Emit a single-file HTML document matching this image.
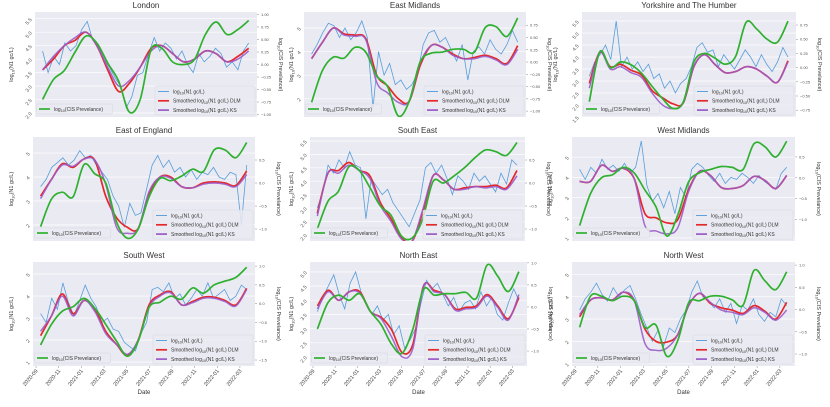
<!DOCTYPE html>
<html><head><meta charset="utf-8"><style>
html,body{margin:0;padding:0;background:#fff;}
svg text{font-family:"Liberation Sans",sans-serif;}
</style></head><body>
<svg id="fig" xmlns="http://www.w3.org/2000/svg" width="830" height="402" viewBox="0 0 830 402"></svg>
<script>
// time positions in months since 2020-09-01
const smoothTimes = [0.4,1.36,2.32,3.27,4.23,5.19,6.15,7.11,8.06,9.02,9.98,10.94,11.89,12.85,13.81,14.77,15.73,16.68,17.64,18.6];
const rawTimes = [0.4,0.89,1.38,1.88,2.37,2.86,3.35,3.85,4.34,4.83,5.32,5.82,6.31,6.8,7.29,7.79,8.28,8.77,9.26,9.76,10.25,10.74,11.23,11.73,12.22,12.71,13.2,13.7,14.19,14.68,15.17,15.67,16.16,16.65,17.14,17.64,18.13,18.6];
const xTickLabels = ["2020-09","2020-11","2021-01","2021-03","2021-05","2021-07","2021-09","2021-11","2022-01","2022-03"];
const xTickMonths = [0,2,4,6,8,10,12,14,16,18];

const londonRaw = [4.3,3.5,4.1,3.8,4.6,4.3,4.5,5.1,5.4,4.7,4.5,4.0,3.7,3.3,3.0,2.2,2.6,3.4,3.5,4.2,4.8,4.3,4.6,4.4,4.0,4.3,3.8,3.5,4.2,3.9,4.1,4.4,4.2,3.7,3.9,3.6,4.3,4.6];
const londonDLM = [3.6,4.0,4.5,4.7,5.0,4.5,3.6,2.8,3.1,3.7,4.4,4.5,4.2,3.9,4.0,4.3,4.2,3.9,4.1,4.4];
const londonKS = [3.6,4.1,4.5,4.8,5.0,4.5,3.7,3.0,3.2,3.7,4.3,4.5,4.2,3.9,4.0,4.3,4.2,3.9,4.0,4.3];
const londonCIS = [-0.7,-0.3,-0.12,0.25,0.57,0.43,0.03,-0.33,-0.95,-0.7,0.3,0.32,0.05,0.0,0.1,0.6,0.85,0.6,0.7,0.88];

const eastMidRaw = [3.9,4.3,4.8,5.2,5.1,4.6,5.0,4.5,4.8,5.3,4.6,1.6,4.0,3.0,3.5,2.6,2.8,2.4,2.6,3.1,4.3,4.8,4.9,4.4,4.6,4.1,3.6,4.3,2.8,4.0,4.2,3.9,4.5,4.1,3.9,4.3,4.9,4.4];
const eastMidDLM = [3.7,4.4,5.0,4.75,4.7,4.55,3.0,2.55,2.0,1.9,3.4,4.25,4.2,3.9,3.7,3.75,3.85,3.7,3.5,4.25];
const eastMidKS = [3.7,4.4,5.0,4.7,4.65,4.5,2.7,2.25,1.85,1.9,3.5,4.25,4.2,3.85,3.7,3.7,3.8,3.65,3.45,4.1];
const eastMidCIS = [-0.82,-0.17,0.1,0.08,0.3,0.2,-0.28,-0.5,-1.1,-0.8,0.0,0.18,0.2,0.26,0.26,0.2,0.7,0.72,0.52,0.9];

const yorksRaw = [3.2,3.8,4.1,4.5,3.9,5.5,3.6,4.0,3.5,3.8,3.4,3.7,3.1,3.3,2.7,3.0,2.5,2.9,3.1,3.6,4.4,4.6,4.2,4.3,3.6,4.1,3.8,3.5,3.9,4.3,4.0,3.6,4.1,3.7,3.4,3.8,4.4,4.0];
const yorksDLM = [2.9,4.2,3.6,3.7,3.45,3.25,2.6,2.3,2.05,2.1,3.6,4.1,3.7,3.35,3.4,3.6,3.5,3.2,2.95,3.85];
const yorksKS = [2.7,4.2,3.5,3.6,3.35,3.15,2.5,2.0,1.85,2.1,3.6,4.1,3.7,3.35,3.4,3.6,3.5,3.2,2.95,3.8];
const yorksCIS = [-0.6,0.28,0.0,0.1,0.05,-0.1,-0.33,-0.55,-0.72,-0.6,0.1,0.25,0.17,0.06,0.2,0.8,0.68,0.5,0.45,0.82];

const eoeRaw = [3.6,3.9,4.4,4.6,4.8,4.5,4.7,5.1,4.8,4.9,4.5,4.2,3.9,3.2,2.8,1.9,2.9,2.4,2.5,3.5,4.5,4.9,4.4,4.7,4.2,4.4,4.0,4.3,3.9,4.2,4.1,4.4,4.0,3.9,4.2,4.1,2.0,4.5];
const eoeDLM = [3.2,3.9,4.55,4.4,4.75,4.7,3.2,2.3,1.9,1.85,3.3,4.0,4.0,3.6,3.55,3.75,3.8,3.75,3.65,4.25];
const eoeKS = [3.1,3.9,4.5,4.45,4.75,4.7,3.7,1.9,1.65,1.85,3.4,4.0,3.95,3.6,3.55,3.7,3.75,3.7,3.6,4.1];
const eoeCIS = [-0.95,-0.35,-0.2,-0.3,0.4,0.2,0.0,-0.85,-1.2,-1.0,-0.3,0.1,0.05,0.15,0.3,0.25,0.72,0.72,0.55,0.88];

const seRaw = [3.0,3.6,4.6,4.3,4.8,4.5,5.1,4.6,4.5,2.6,4.1,3.8,3.5,3.7,3.2,2.9,2.6,2.3,2.8,3.3,4.5,4.7,4.3,4.6,4.1,3.5,4.2,4.0,3.7,4.3,4.0,4.2,3.9,3.6,4.3,3.9,4.8,4.6];
const seDLM = [2.8,4.3,4.4,4.7,4.4,4.2,3.2,2.6,1.9,1.75,2.8,4.2,4.05,3.7,3.75,3.8,3.8,3.85,3.75,4.4];
const seKS = [2.7,4.3,4.3,4.6,4.4,4.1,3.1,2.5,1.85,1.75,2.9,4.2,4.05,3.7,3.7,3.8,3.75,3.8,3.7,4.2];
const seCIS = [-1.0,-0.4,-0.18,0.35,0.27,-0.1,-0.5,-0.7,-1.15,-1.2,-0.8,0.03,0.0,0.15,0.33,0.55,0.72,0.68,0.6,0.88];

const wmRaw = [4.4,3.9,4.5,4.2,4.9,4.4,4.6,4.3,4.7,4.2,4.5,5.8,3.6,2.8,3.2,2.5,3.3,2.2,3.5,3.0,4.4,4.7,4.5,4.1,3.8,4.2,3.7,4.0,3.9,4.2,4.0,3.7,4.1,3.8,3.6,3.4,4.2,4.5];
const wmDLM = [3.8,3.8,4.6,4.3,4.45,3.95,2.2,2.0,1.75,1.9,3.4,4.3,4.1,3.5,3.45,3.6,4.05,3.85,3.45,4.1];
const wmKS = [3.8,3.8,4.6,4.3,4.45,3.95,1.6,1.35,1.2,1.5,3.3,4.3,4.1,3.5,3.45,3.6,4.05,3.85,3.45,4.1];
const wmCIS = [-1.15,-0.38,0.0,0.07,0.25,0.12,-0.3,-0.7,-1.4,-0.9,-0.1,0.12,0.2,0.27,0.25,0.2,0.82,0.75,0.5,0.88];

const swRaw = [3.2,2.8,3.9,3.4,4.6,3.7,3.1,3.8,4.5,3.9,3.5,2.8,3.0,2.5,2.4,1.9,1.7,1.5,2.3,2.8,4.3,4.4,4.2,4.6,3.9,4.1,3.6,3.9,4.3,4.0,4.6,3.9,4.1,4.3,3.8,4.0,4.5,4.3];
const swDLM = [2.2,3.1,4.1,3.2,3.8,3.4,2.4,1.8,1.3,2.0,3.6,4.05,4.2,3.6,3.75,3.95,3.95,3.8,3.6,4.35];
const swKS = [2.4,3.1,4.0,3.1,3.8,3.3,2.3,1.8,1.35,2.0,3.5,4.0,4.15,3.6,3.7,3.9,3.9,3.75,3.55,4.3];
const swCIS = [-1.1,-0.55,-0.2,-0.08,0.14,-0.12,-0.55,-1.0,-1.4,-1.0,-0.1,0.04,0.2,0.12,0.42,0.28,0.5,0.6,0.7,0.97];

const neRaw = [3.6,4.1,4.5,4.9,4.2,3.7,4.6,5.0,4.3,3.9,3.5,3.8,3.3,3.5,2.8,3.1,2.3,2.6,3.0,3.9,4.7,4.4,4.6,4.2,3.8,4.1,3.6,3.9,4.0,3.7,4.3,3.8,4.1,3.5,3.3,3.9,4.4,4.0];
const neDLM = [3.8,4.35,4.0,4.3,4.3,3.6,3.4,2.95,2.15,2.45,4.5,4.35,4.2,3.7,3.75,3.8,4.2,3.8,3.35,4.1];
const neKS = [3.7,4.3,4.0,4.3,4.25,3.6,3.35,2.7,2.0,2.3,4.5,4.3,4.2,3.65,3.7,3.75,4.15,3.75,3.3,4.2];
const neCIS = [-0.5,0.1,0.27,0.15,0.3,-0.1,-0.4,-0.85,-1.05,-0.5,0.4,0.27,0.3,0.3,0.33,0.2,0.95,0.7,0.35,0.8];

const nwRaw = [3.4,3.9,4.2,4.6,4.1,3.8,4.4,4.0,4.3,4.5,3.9,3.2,2.6,2.0,2.5,1.8,2.6,2.4,3.0,3.4,4.2,4.7,4.0,3.8,3.5,3.9,3.3,3.7,2.8,3.6,3.4,3.9,3.2,2.9,3.3,3.1,3.9,3.6];
const nwDLM = [3.1,3.85,3.95,3.85,4.2,3.85,2.55,2.0,1.97,2.3,3.6,4.15,3.7,3.5,3.4,3.25,3.6,3.35,3.0,3.75];
const nwKS = [3.2,3.85,3.95,3.85,4.2,3.85,1.9,1.6,1.7,2.3,3.6,4.15,3.75,3.4,3.3,3.2,3.5,3.3,2.95,3.4];
const nwCIS = [-0.4,0.3,0.3,0.2,0.3,0.2,-0.4,-0.35,-1.05,-0.7,0.15,0.2,0.3,0.3,0.22,0.1,0.88,0.65,0.45,0.85];

const londonLeftTicks = [2.0,2.5,3.0,3.5,4.0,4.5,5.0,5.5];
const londonRightTicks = [-1.0,-0.75,-0.5,-0.25,0,0.25,0.5,0.75,1.0];
const eastMidLeftTicks = [2,3,4,5];
const eastMidRightTicks = [-1.0,-0.75,-0.5,-0.25,0,0.25,0.5,0.75];
const yorksLeftTicks = [1.5,2.0,2.5,3.0,3.5,4.0,4.5,5.0,5.5];
const yorksRightTicks = [-0.75,-0.5,-0.25,0,0.25,0.5,0.75];
const eoeLeftTicks = [2,3,4,5];
const halfRightTicks = [-1.0,-0.5,0.0,0.5];
const seLeftTicks = [2.0,2.5,3.0,3.5,4.0,4.5,5.0,5.5];
const wmLeftTicks = [1,2,3,4,5];
const swLeftTicks = [1,2,3,4,5];
const swRightTicks = [-1.5,-1.0,-0.5,0.0,0.5,1.0];
const neLeftTicks = [2.0,2.5,3.0,3.5,4.0,4.5,5.0];
const neRightTicks = [-1.0,-0.5,0.0,0.5,1.0];
const nwLeftTicks = [1,2,3,4,5];
const nwRightTicks = [-1.0,-0.5,0.0,0.5,1.0];

const panels = [
 {name:'london',title:'London',L:35,R:257,T:12,B:117,yo:22,ld:[1.85,5.75],rd:[-1.05,1.05],lt:londonLeftTicks,rt:londonRightTicks,rf:2,raw:londonRaw,dlm:londonDLM,ks:londonKS,cis:londonCIS,row:0},
 {name:'east-midlands',title:'East Midlands',L:304,R:526,T:12,B:117,yo:11,ld:[1.23,5.68],rd:[-1.12,1.02],lt:eastMidLeftTicks,rt:eastMidRightTicks,rf:2,raw:eastMidRaw,dlm:eastMidDLM,ks:eastMidKS,cis:eastMidCIS,row:0},
 {name:'yorkshire',title:'Yorkshire and The Humber',L:582,R:796,T:12,B:117,yo:25,ld:[1.5,5.88],rd:[-0.87,0.98],lt:yorksLeftTicks,rt:yorksRightTicks,rf:2,raw:yorksRaw,dlm:yorksDLM,ks:yorksKS,cis:yorksCIS,row:0},
 {name:'east-of-england',title:'East of England',L:33,R:255,T:137,B:241,yo:20,ld:[1.33,5.67],rd:[-1.26,1.0],lt:eoeLeftTicks,rt:halfRightTicks,rf:1,raw:eoeRaw,dlm:eoeDLM,ks:eoeKS,cis:eoeCIS,row:1},
 {name:'south-east',title:'South East',L:310,R:525,T:137,B:241,yo:17,ld:[1.77,5.65],rd:[-1.26,1.0],lt:seLeftTicks,rt:halfRightTicks,rf:1,raw:seRaw,dlm:seDLM,ks:seKS,cis:seCIS,row:1},
 {name:'west-midlands',title:'West Midlands',L:572,R:795,T:137,B:241,yo:20,ld:[0.85,6.0],rd:[-1.52,0.98],lt:wmLeftTicks,rt:halfRightTicks,rf:1,raw:wmRaw,dlm:wmDLM,ks:wmKS,cis:wmCIS,row:1},
 {name:'south-west',title:'South West',L:33,R:255,T:262,B:366,yo:20,ld:[0.82,5.55],rd:[-1.66,1.11],lt:swLeftTicks,rt:swRightTicks,rf:1,raw:swRaw,dlm:swDLM,ks:swKS,cis:swCIS,row:2},
 {name:'north-east',title:'North East',L:310,R:527,T:262,B:366,yo:17,ld:[1.68,5.35],rd:[-1.34,1.02],lt:neLeftTicks,rt:neRightTicks,rf:1,raw:neRaw,dlm:neDLM,ks:neKS,cis:neCIS,row:2},
 {name:'north-west',title:'North West',L:572,R:795,T:262,B:366,yo:20,ld:[0.9,5.55],rd:[-1.27,1.07],lt:nwLeftTicks,rt:nwRightTicks,rf:1,raw:nwRaw,dlm:nwDLM,ks:nwKS,cis:nwCIS,row:2}
];

const NS='http://www.w3.org/2000/svg';
const svg=document.getElementById('fig');
function mk(tag,attrs,parent){const e=document.createElementNS(NS,tag);for(const k in attrs)e.setAttribute(k,attrs[k]);(parent||svg).appendChild(e);return e;}
function smoothPath(pts){
  let d='M'+pts[0][0].toFixed(1)+','+pts[0][1].toFixed(1);
  for(let i=0;i<pts.length-1;i++){
    const p0=pts[i-1]||pts[i],p1=pts[i],p2=pts[i+1],p3=pts[i+2]||p2;
    const c1x=p1[0]+(p2[0]-p0[0])/6,c1y=p1[1]+(p2[1]-p0[1])/6;
    const c2x=p2[0]-(p3[0]-p1[0])/6,c2y=p2[1]-(p3[1]-p1[1])/6;
    d+=' C'+c1x.toFixed(1)+','+c1y.toFixed(1)+' '+c2x.toFixed(1)+','+c2y.toFixed(1)+' '+p2[0].toFixed(1)+','+p2[1].toFixed(1);
  }
  return d;
}
function fmt(v,n){return (v<0?'\u2212':'')+Math.abs(v).toFixed(n);}

panels.forEach(p=>{
  const g=mk('g',{});
  
  
  const W=p.R-p.L,H=p.B-p.T;
  const xS=t=>p.L+(t+0.27)/19.6*W;
  const yL=v=>p.B-(v-p.ld[0])/(p.ld[1]-p.ld[0])*H;
  const yR=v=>p.B-(v-p.rd[0])/(p.rd[1]-p.rd[0])*H;
  const bg=mk('rect',{x:p.L,y:p.T,width:W,height:H,fill:'#eaeaf2'},g);
  
  
  const t=mk('text',{x:(p.L+p.R)/2,y:p.T-4,'text-anchor':'middle','font-size':'8','fill':'#333'},g);
  t.textContent=p.title;
  
  
  p.lt.forEach(v=>{
    const y=yL(v);
    mk('line',{x1:p.L,x2:p.R,y1:y,y2:y,stroke:'#fff','stroke-width':0.6},g);
    const tx=mk('text',{x:p.L-4,y:y+1.5,'text-anchor':'end','font-size':'5','fill':'#555',transform:'rotate(-50 '+(p.L-4)+' '+y+')'},g);
    tx.textContent=(Number.isInteger(v)&&p.lt.some(q=>!Number.isInteger(q)))?v.toFixed(1):String(v);
    
    
  });
  p.rt.forEach(v=>{
    const y=yR(v);
    mk('line',{x1:p.R,x2:p.R+2,y1:y,y2:y,stroke:'#888','stroke-width':0.5},g);
    const tx=mk('text',{x:p.R+4,y:y+1.5,'font-size':'4','fill':'#555'},g);
    tx.textContent=fmt(v,p.rf);
    
    
  });
  const cy=(p.T+p.B)/2;
  const lx0=p.L-p.yo;
  const ly=mk('text',{x:lx0,y:cy,'text-anchor':'middle','font-size':'5.5','fill':'#333',transform:'rotate(-90 '+lx0+' '+cy+')'},g);
  ly.innerHTML='log<tspan font-size="4" dy="1.5">10</tspan><tspan dy="-1.5">(N1 gc/L)</tspan>';
  
  
  const ry=mk('text',{x:p.R+22,y:cy,'text-anchor':'middle','font-size':'5.5','fill':'#333',transform:'rotate(90 '+(p.R+22)+' '+cy+')'},g);
  ry.innerHTML='log<tspan font-size="4" dy="1.5">10</tspan><tspan dy="-1.5">(CIS Prevelance)</tspan>';
  
  
  if(p.row===2){
    xTickMonths.forEach((m,i)=>{
      const x=xS(m);
      mk('line',{x1:x,x2:x,y1:p.B,y2:p.B+2,stroke:'#888','stroke-width':0.5},g);
      const tx=mk('text',{x:x+2,y:p.B+5,'text-anchor':'end','font-size':'5.5','fill':'#444',transform:'rotate(-50 '+(x+2)+' '+(p.B+5)+')'},g);
      tx.textContent=xTickLabels[i];
      
      
    });
    const dl=mk('text',{x:(p.L+p.R)/2,y:394,'text-anchor':'middle','font-size':'6','fill':'#333'},g);
    dl.textContent='Date';
    
    
  }
  const clipId='clip-'+p.name;
  const cp=mk('clipPath',{id:clipId},g);
  mk('rect',{x:p.L,y:p.T,width:W,height:H},cp);
  const lg=mk('g',{'clip-path':'url(#'+clipId+')'},g);
  const rawPts=rawTimes.map((tt,i)=>[xS(tt),yL(p.raw[i])]);
  const rl=mk('polyline',{points:rawPts.map(q=>q[0].toFixed(1)+','+q[1].toFixed(1)).join(' '),fill:'none',stroke:'#3d8fd6','stroke-width':0.8,'stroke-opacity':0.85},lg);
  
  
  const dl2=mk('path',{d:smoothPath(smoothTimes.map((tt,i)=>[xS(tt),yL(p.dlm[i])])),fill:'none',stroke:'#e5282b','stroke-width':1.7},lg);
  
  
  const ks=mk('path',{d:smoothPath(smoothTimes.map((tt,i)=>[xS(tt),yL(p.ks[i])])),fill:'none',stroke:'#9b5bc9','stroke-width':1.5,'stroke-opacity':0.9},lg);
  
  
  const cis=mk('path',{d:smoothPath(smoothTimes.map((tt,i)=>[xS(tt),yR(p.cis[i])])),fill:'none',stroke:'#2fb02f','stroke-width':1.7},lg);
  
  
  const lx=p.R-102, lyy=p.B-31;
  const lb=mk('g',{},g);
  
  
  mk('rect',{x:lx,y:lyy,width:100,height:29,fill:'#eaeaf2','fill-opacity':0.85,stroke:'#d6d6de','stroke-width':0.5,rx:1.5},lb);
  const ent=[['#3d8fd6',0.8,'log<tspan font-size="3.8" dy="1.3">10</tspan><tspan dy="-1.3">(N1 gc/L)</tspan>','legend-raw'],
             ['#e5282b',1.7,'Smoothed log<tspan font-size="3.8" dy="1.3">10</tspan><tspan dy="-1.3">(N1 gc/L) DLM</tspan>','legend-dlm'],
             ['#9b5bc9',1.7,'Smoothed log<tspan font-size="3.8" dy="1.3">10</tspan><tspan dy="-1.3">(N1 gc/L) KS</tspan>','legend-ks']];
  ent.forEach((e,i)=>{
    const y=lyy+5.5+i*9.3;
    mk('line',{x1:lx+3,x2:lx+14,y1:y,y2:y,stroke:e[0],'stroke-width':e[1]},lb);
    const tx=mk('text',{x:lx+18,y:y+1.8,'font-size':'5','fill':'#333'},lb);
    tx.innerHTML=e[2];
    
    
  });
  const gl=mk('g',{},g);
  
  
  mk('rect',{x:p.L+1.5,y:p.B-13,width:76,height:10,fill:'#eaeaf2','fill-opacity':0.85,stroke:'#d6d6de','stroke-width':0.5,rx:1.5},gl);
  mk('line',{x1:p.L+4,x2:p.L+15,y1:p.B-8,y2:p.B-8,stroke:'#2fb02f','stroke-width':1.7},gl);
  const gt=mk('text',{x:p.L+19,y:p.B-6.2,'font-size':'5','fill':'#333'},gl);
  gt.innerHTML='log<tspan font-size="3.8" dy="1.3">10</tspan><tspan dy="-1.3">(CIS Prevelance)</tspan>';
  
  
});
</script>
</body></html>
